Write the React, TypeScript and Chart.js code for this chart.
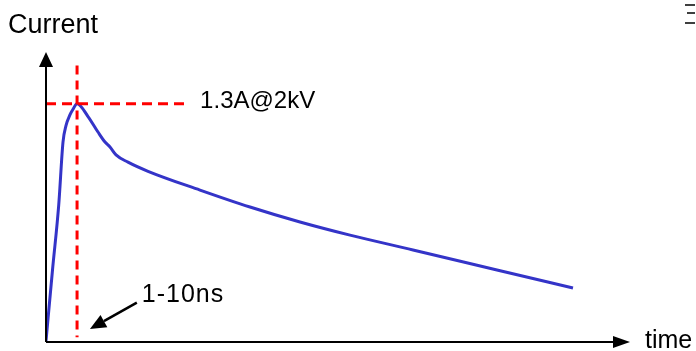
import React, { useEffect, useRef } from "react";
import { Chart, registerables } from "chart.js";

Chart.register(...registerables);

// ESD discharge current waveform (arbitrary time units, current in A)
const timeValues = [0, 1.11, 2.17, 2.9, 3.41, 4.1, 4.61, 5.3, 7.17, 8.87, 10.07, 10.92, 11.95, 13.99, 17.41, 26.28, 34.81, 43.34, 51.88, 62.63, 76.96, 89.93];
const currentValues = [0, 0.389, 0.745, 1.09, 1.18, 1.24, 1.27, 1.3, 1.23, 1.145, 1.09, 1.063, 1.02, 0.98, 0.93, 0.827, 0.734, 0.652, 0.58, 0.499, 0.389, 0.29];

const peakCurrent = 1.3;
const peakTime = 5.3;
const peakLineEnd = 23.7;
const riseLineTop = 1.51;
const riseLineBottom = 0.02;

const peakLabel = "1.3A@2kV";
const riseLabel = "1-10ns";
const yAxisTitle = "Current";
const xAxisTitle = "time";

const X_MAX = 100;
const Y_MAX = 1.6;

const FONT = "'Liberation Sans', Arial, sans-serif";

const sketchPlugin = {
  id: "sketch",
  afterDatasetsDraw(chart: any) {
    const { ctx, chartArea, scales } = chart;
    const xs = scales.x;
    const ys = scales.y;
    ctx.save();

    // axes with arrowheads
    ctx.strokeStyle = "#000";
    ctx.fillStyle = "#000";
    ctx.lineWidth = 2;
    const ox = chartArea.left;
    const oy = chartArea.bottom + 1;
    const yTip = chartArea.top + 3;
    const xTip = chartArea.right - 2;
    ctx.beginPath();
    ctx.moveTo(ox, oy);
    ctx.lineTo(ox, yTip + 12);
    ctx.moveTo(ox, oy);
    ctx.lineTo(xTip - 14, oy);
    ctx.stroke();
    ctx.beginPath();
    ctx.moveTo(ox, yTip);
    ctx.lineTo(ox - 7, yTip + 15);
    ctx.lineTo(ox + 7, yTip + 15);
    ctx.closePath();
    ctx.fill();
    ctx.beginPath();
    ctx.moveTo(xTip, oy);
    ctx.lineTo(xTip - 17, oy - 6);
    ctx.lineTo(xTip - 17, oy + 6);
    ctx.closePath();
    ctx.fill();

    // pointer to the rise time
    const tipX = xs.getPixelForValue(7.5);
    const tipY = ys.getPixelForValue(0.066);
    const tailX = xs.getPixelForValue(15.5);
    const tailY = ys.getPixelForValue(0.21);
    const ang = Math.atan2(tipY - tailY, tipX - tailX);
    const headLen = 16;
    const headHalf = 7;
    const bx = tipX - headLen * Math.cos(ang);
    const by = tipY - headLen * Math.sin(ang);
    ctx.lineWidth = 2.5;
    ctx.beginPath();
    ctx.moveTo(tailX, tailY);
    ctx.lineTo(bx, by);
    ctx.stroke();
    ctx.beginPath();
    ctx.moveTo(tipX, tipY);
    ctx.lineTo(bx + headHalf * Math.sin(ang), by - headHalf * Math.cos(ang));
    ctx.lineTo(bx - headHalf * Math.sin(ang), by + headHalf * Math.cos(ang));
    ctx.closePath();
    ctx.fill();

    // labels
    ctx.fillStyle = "#000";
    ctx.textAlign = "left";
    ctx.textBaseline = "alphabetic";
    ctx.font = `24px ${FONT}`;
    ctx.fillText(peakLabel, xs.getPixelForValue(26.3), ys.getPixelForValue(peakCurrent) + 4);
    ctx.font = `25px ${FONT}`;
    ctx.letterSpacing = "1px";
    ctx.fillText(riseLabel, tailX + 5, tailY - 1);
    ctx.letterSpacing = "0px";
    ctx.fillText(xAxisTitle, 645, 348);
    ctx.font = `27px ${FONT}`;
    ctx.fillText(yAxisTitle, 8, 33);

    // small mark in the top-right corner
    ctx.lineWidth = 1.5;
    ctx.beginPath();
    ctx.moveTo(685, 5);
    ctx.lineTo(695, 5);
    ctx.moveTo(687, 13);
    ctx.lineTo(695, 13);
    ctx.moveTo(685, 23);
    ctx.lineTo(695, 23);
    ctx.stroke();

    ctx.restore();
  },
};

export default function App() {
  const canvasRef = useRef<HTMLCanvasElement | null>(null);

  useEffect(() => {
    if (!canvasRef.current) return;
    const waveform = timeValues.map((t, i) => ({ x: t, y: currentValues[i] }));
    const chart = new Chart(canvasRef.current, {
      type: "scatter",
      data: {
        datasets: [
          {
            label: "peak",
            data: [
              { x: 0, y: peakCurrent },
              { x: peakLineEnd, y: peakCurrent },
            ],
            showLine: true,
            borderColor: "#ff0000",
            borderWidth: 3,
            borderDash: [10, 6],
            pointRadius: 0,
          },
          {
            label: "rise",
            data: [
              { x: peakTime, y: riseLineTop },
              { x: peakTime, y: riseLineBottom },
            ],
            showLine: true,
            borderColor: "#ff0000",
            borderWidth: 3,
            borderDash: [9, 6],
            pointRadius: 0,
          },
          {
            label: "current",
            data: waveform,
            showLine: true,
            borderColor: "#3434c8",
            borderWidth: 3,
            cubicInterpolationMode: "monotone",
            pointRadius: 0,
          },
        ],
      },
      options: {
        responsive: false,
        animation: false,
        devicePixelRatio: 1,
        layout: { padding: { left: 46, right: 64, top: 49, bottom: 10 } },
        plugins: { legend: { display: false }, tooltip: { enabled: false } },
        scales: {
          x: { type: "linear", min: 0, max: X_MAX, display: false },
          y: { type: "linear", min: 0, max: Y_MAX, display: false },
        },
      },
      plugins: [sketchPlugin],
    });
    return () => chart.destroy();
  }, []);

  return (
    <div style={{ position: "absolute", left: 0, top: 0, width: 696, height: 351, background: "#fff" }}>
      <canvas ref={canvasRef} width={696} height={351} />
    </div>
  );
}
